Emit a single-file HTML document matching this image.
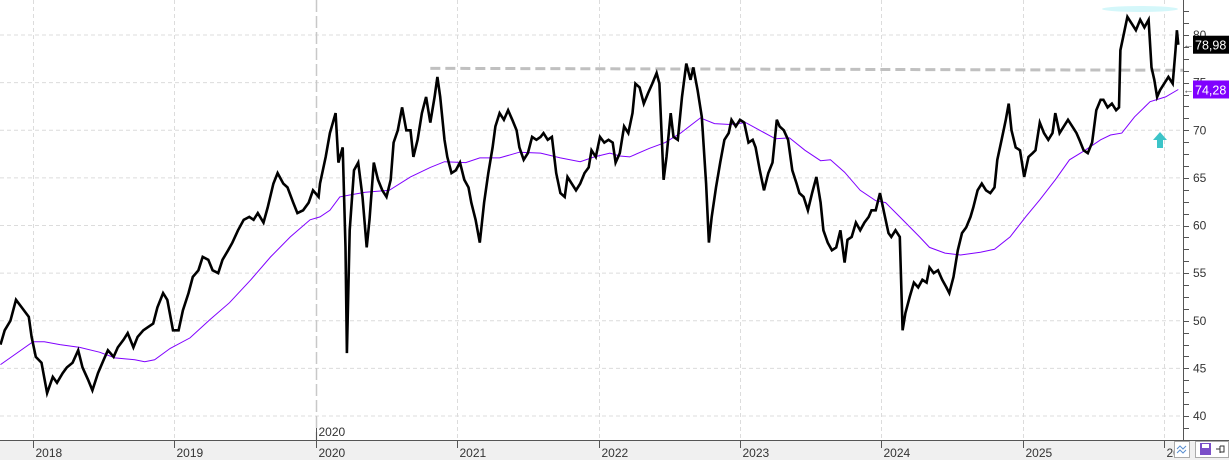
<!DOCTYPE html>
<html><head><meta charset="utf-8"><style>
html,body{margin:0;padding:0;background:#fff;overflow:hidden}
svg{display:block;font-family:"Liberation Sans",sans-serif}
</style></head><body>
<svg id="chart" width="1229" height="463" viewBox="0 0 1229 463" xmlns="http://www.w3.org/2000/svg">
<rect x="0" y="0" width="1229" height="463" fill="#fff"/>
<g id="grid"></g>
<g id="marks"></g>
<g id="axes"></g>
</svg>
<script>
const priceDates=[17.77,17.80,17.84,17.88,17.92,17.97,17.99,18.02,18.06,18.10,18.14,18.17,18.21,18.24,18.28,18.32,18.35,18.39,18.42,18.46,18.50,18.53,18.57,18.60,18.64,18.67,18.71,18.74,18.78,18.81,18.85,18.88,18.92,18.95,18.99,19.03,19.06,19.10,19.13,19.17,19.20,19.24,19.27,19.31,19.34,19.38,19.41,19.45,19.49,19.53,19.56,19.59,19.63,19.66,19.70,19.73,19.77,19.80,19.84,19.87,19.91,19.95,19.98,20.02,
20.03,20.07,20.10,20.14,20.16,20.19,20.21,20.22,20.24,20.27,20.30,20.33,20.36,20.38,20.41,20.44,20.47,20.50,20.53,20.55,20.58,20.61,20.64,20.67,20.69,20.72,20.75,20.78,20.81,20.84,20.86,20.88,20.91,20.93,20.96,20.99,21.02,21.05,21.08,21.10,21.13,21.16,21.19,21.22,21.25,21.27,21.30,21.33,21.36,21.39,21.42,21.44,21.47,21.50,21.53,21.56,21.59,21.61,21.64,21.67,21.70,21.73,21.76,21.78,21.81,21.84,21.87,21.90,21.93,21.95,21.98,22.01,22.04,22.07,22.10,22.12,
22.15,22.18,22.21,22.24,22.26,22.29,22.32,22.35,22.38,22.41,22.43,22.46,22.48,22.51,22.53,22.56,22.59,22.62,22.65,22.67,22.70,22.73,22.76,22.78,22.80,22.83,22.86,22.89,22.92,22.94,22.97,23.00,23.03,23.06,23.09,23.11,23.14,23.17,23.20,23.23,23.26,23.28,23.31,23.34,23.37,23.40,23.42,23.45,23.48,23.51,23.54,23.57,23.59,23.62,23.65,23.68,23.71,23.74,23.76,23.79,23.82,23.85,23.88,23.91,23.93,23.96,23.99,24.02,24.05,24.07,24.10,24.13,24.15,24.17,24.20,24.23,24.26,
24.29,24.32,24.34,24.37,24.40,24.43,24.46,24.48,24.51,24.54,24.57,24.60,24.63,24.65,24.68,24.71,24.74,24.77,24.80,24.82,24.85,24.88,24.90,24.92,24.95,24.98,25.01,25.04,25.07,25.09,25.12,25.15,25.18,25.21,25.23,25.26,25.29,25.32,25.35,25.38,25.40,25.43,25.46,25.49,25.52,25.55,25.57,25.60,25.63,25.66,25.68,25.69,25.72,25.74,25.77,25.80,25.83,25.86,25.89,25.91,25.93,25.95,25.97,26.00,26.03,26.06,26.08,26.09,26.10];
const priceValues=[47.5,49,50,52.2,51.4,50.4,48.3,46.2,45.6,42.4,44.1,43.5,44.5,45.1,45.6,46.9,45.1,43.8,42.7,44.5,45.9,46.9,46.2,47.2,48,48.7,47.2,48.3,49,49.3,49.7,51.4,52.9,52.2,49,49,51.1,52.9,54.6,55.3,56.7,56.4,55.3,55,56.4,57.4,58.2,59.5,60.6,60.9,60.6,61.3,60.3,61.9,64.4,65.5,64.4,64,62.4,61.3,61.6,62.4,63.7,63,
64.4,67.2,69.7,71.8,66.6,68.2,57.7,46.6,59.5,65.8,66.6,63,57.7,60.6,66.6,64.8,63.7,63,64.8,68.7,70,72.4,70,70,67.2,69,71.8,73.5,70.8,73.5,75.6,73.5,69,67.2,65.5,65.8,66.6,64.8,64,62.4,60.6,58.2,62.4,65.5,68.2,70.4,71.8,71.1,72.1,71.1,70,68.2,66.9,67.6,69.3,69,69.3,69.7,69,69.3,65.5,63.4,63,65.1,64.4,63.7,64.4,65.5,66.1,67.9,67.2,69.3,68.7,69,68.7,66.6,
67.6,70.4,69.7,71.8,74.9,74.5,72.8,73.9,74.9,76,74.9,64.8,67.2,71.8,69.3,69,73.5,77,75.3,76.6,74.2,71.4,64.4,58.2,60.9,64,66.6,69,69.7,71.1,70.4,71.1,70.8,68.7,69,68.2,65.8,63.7,65.5,66.6,71.1,70.4,70,69,65.8,64.4,63.4,63,61.6,63.4,65.1,62.4,59.5,58.2,57.4,57.7,59.5,56.1,58.5,58.8,60.3,59.5,60.3,60.9,61.6,61.6,63.4,61.3,59.2,58.8,59.5,58.8,49,50.8,52.5,54,53.5,
54.3,54,55.6,55,55.3,54.3,53.5,52.9,54.6,57.4,59.2,59.8,60.9,61.9,63.7,64.4,63.7,63.4,64,66.9,69,71.1,72.8,70,68.2,67.9,65.1,67.2,67.6,67.9,70.8,69.7,69,69.7,71.8,69.7,70.4,71.1,70.4,69.7,69,67.9,67.6,68.7,72.1,73.2,73.2,72.4,72.8,72.1,72.4,78.4,80.5,81.9,81.2,80.5,81.6,80.8,81.6,76.6,75.3,73.5,74.2,74.9,75.6,74.9,78.4,80.5,78.98];
const maDates=[17.77,18.00,18.08,18.19,18.33,18.47,18.58,18.72,18.79,18.86,18.97,19.11,19.25,19.39,19.54,19.68,19.82,19.96,20.03,20.10,20.17,20.24,20.35,20.52,20.67,20.81,20.91,21.06,21.16,21.30,21.44,21.59,21.73,21.87,21.97,22.08,22.15,22.22,22.36,22.47,22.58,22.72,22.82,22.93,23.04,23.14,23.25,23.35,23.46,23.57,23.64,23.74,23.85,23.96,24.03,24.13,24.27,24.34,24.45,24.56,24.70,24.80,24.91,25.02,25.12,25.23,25.33,25.44,25.55,25.62,25.70,25.79,25.90,26.01,26.10];
const maValues=[45.4,47.8,47.8,47.5,47.2,46.7,46.1,45.9,45.7,45.9,47.1,48.2,50.1,51.9,54.3,56.7,58.8,60.6,60.9,61.6,63,63.2,63.5,63.7,65.1,66.1,66.7,66.6,67.1,67.1,67.7,67.6,67.1,66.7,67.2,67.6,67.3,67.2,68.1,68.7,69.7,71.3,70.7,70.6,70.8,70,69.1,69.2,67.9,66.8,66.9,65.6,63.7,62.6,62.4,60.9,58.8,57.7,57.1,56.9,57.2,57.5,58.8,60.9,62.7,64.8,66.9,67.9,69,69.5,69.7,71.4,73,73.5,74.28];
const yearTicks=[2018,2019,2020,2021,2022,2023,2024,2025,2026];
const yearLabels=["2018","2019","2020","2021","2022","2023","2024","2025","20"];
const priceTicks=[80,75,70,65,60,55,50,45,40];
const resistanceStart=20.81, resistanceLeft=76.5, resistanceRight=76.3;
const lastPrice=78.98, lastMA=74.28;

const NS="http://www.w3.org/2000/svg";
function X(d){return 33+(d-18)*141.4;}
function Y(v){return 35+(80-v)*9.525;}
function mk(tag,attrs,parent){const e=document.createElementNS(NS,tag);for(const k in attrs)e.setAttribute(k,attrs[k]);parent.appendChild(e);return e;}
const grid=document.getElementById('grid'),marks=document.getElementById('marks'),axes=document.getElementById('axes');
const AX=1183;
priceTicks.forEach(v=>{const l=mk('line',{x1:0,x2:AX,y1:Y(v),y2:Y(v),stroke:'#dcdcdc','stroke-dasharray':'4,3'},grid);

});
yearTicks.forEach(y=>{const x=Math.round(X(y-2000))+0.5;const is2020=y===2020;
const l=mk('line',{x1:x,x2:x,y1:0,y2:440,stroke:is2020?'#c8c8c8':'#dcdcdc','stroke-dasharray':is2020?'12,4':'4,3','stroke-width':is2020?1.5:1},grid);

});
const hl=mk('ellipse',{cx:1140,cy:9,rx:38,ry:3,fill:'#d4f7fa'},marks);


const rs=mk('line',{x1:X(resistanceStart),y1:Y(resistanceLeft),x2:AX,y2:Y(resistanceRight),stroke:'#c0c0c0','stroke-width':3,'stroke-dasharray':'10,5'},marks);


const ma=mk('polyline',{points:maDates.map((d,i)=>X(d).toFixed(1)+','+Y(maValues[i]).toFixed(1)).join(' '),fill:'none',stroke:'#8000ff','stroke-width':1},marks);


const pr=mk('polyline',{points:priceDates.map((d,i)=>X(d).toFixed(1)+','+Y(priceValues[i]).toFixed(1)).join(' '),fill:'none',stroke:'#000','stroke-width':2.6,'stroke-linejoin':'miter'},marks);


const ar=mk('path',{d:'M1160,132 L1167,140 L1163,140 L1163,148 L1157,148 L1157,140 L1153,140 Z',fill:'#3cc4c8'},marks);


mk('rect',{x:AX+1,y:0,width:46,height:440,fill:'#fff'},axes);
const ra=mk('line',{x1:AX+0.5,x2:AX+0.5,y1:0,y2:440,stroke:'#555'},axes);


for(let v=82.5;v>=37.5;v-=1.25){const y=Math.round(Y(v))+0.5;if(y<0||y>440)continue;mk('line',{x1:AX,x2:AX+6,y1:y,y2:y,stroke:'#555'},axes);}
priceTicks.forEach(v=>{const t=mk('text',{x:1193,y:Y(v)+4,'font-size':12,fill:'#333'},axes);t.textContent=String(v);

});
function tag(v,bg,name){const y=Y(v);const g=mk('g',{},axes);


mk('rect',{x:1193,y:y-9,width:36,height:18,fill:bg},g);
const t=mk('text',{x:1195,y:y+5,'font-size':12.5,fill:'#fff'},g);t.textContent=v.toFixed(2).replace('.',',');
const a=mk('text',{x:1183,y:y+4,'font-size':11,fill:'#555'},g);a.textContent='\u2190';}
tag(lastPrice,'#000','last-price-tag');
tag(lastMA,'#8000ff','ma-value-tag');
const band=mk('rect',{x:0,y:440,width:1229,height:20,fill:'#f0f0f0'},axes);


const ba=mk('line',{x1:0,x2:1229,y1:440.5,y2:440.5,stroke:'#555'},axes);


yearTicks.forEach((y,i)=>{const x=Math.round(X(y-2000))+0.5;mk('line',{x1:x,x2:x,y1:440,y2:448,stroke:'#555'},axes);
const t=mk('text',{x:x+2,y:457,'font-size':12,fill:'#333'},axes);t.textContent=yearLabels[i];

});
const x20=Math.round(X(20))+0.5;mk('line',{x1:x20,x2:x20,y1:428,y2:440,stroke:'#555'},axes);
const t20=mk('text',{x:x20+2,y:436,'font-size':12,fill:'#333'},axes);t20.textContent='2020';


const b1=mk('rect',{x:1174.5,y:441.5,width:15,height:16,fill:'#fff',stroke:'#aaa'},axes);


mk('path',{d:'M1177,449 l3,-3 l3,3 l3,-3 M1177,453 l3,-3 l3,3 l3,-3',fill:'none',stroke:'#5a8fd0','stroke-width':1},axes);
const b2=mk('rect',{x:1195.5,y:441.5,width:33,height:16,fill:'#fff',stroke:'#aaa'},axes);


mk('rect',{x:1200,y:443,width:11,height:12,fill:'#7b4fc8'},axes);
mk('rect',{x:1202,y:444,width:7,height:4,fill:'#fff'},axes);
mk('path',{d:'M1216,449 h4 M1220,446 v7 M1220,446 h4 v6 h-4',fill:'none',stroke:'#333'},axes);
mk('rect',{x:0,y:460,width:1229,height:3,fill:'#fff'},axes);
</script>
</body></html>
